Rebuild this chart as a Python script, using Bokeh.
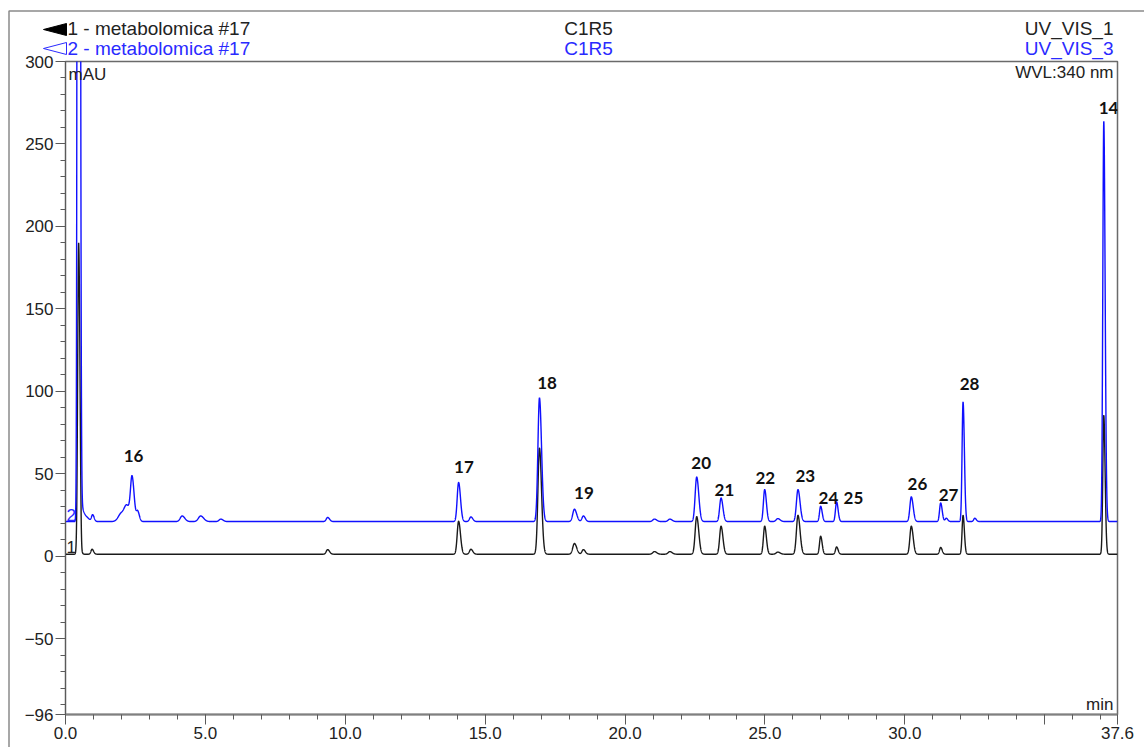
import numpy as np
from bokeh.plotting import figure
from bokeh.models import (Range1d, FixedTicker, Label, ColumnDataSource, NumeralTickFormatter)
from bokeh.core.properties import value
from bokeh.embed import file_html
from bokeh.resources import INLINE

# ---------------- data ----------------
x_start, x_end = 0.0, 37.6
y_bottom, y_top = -96, 300

x_major = [0, 5, 10, 15, 20, 25, 30, 35, 37.6]
y_major = [-96, -50, 0, 50, 100, 150, 200, 250, 300]

# channel 2 (blue, UV_VIS_3): retention time (min), apex (mAU), sigma (min)
ch3_base = 21.0
ch3_time = [0.465, 0.58, 0.72, 0.97, 2.00, 2.20, 2.38, 2.58, 4.17, 4.83, 5.55, 9.37,
            14.05, 14.49, 16.94, 18.19, 18.51, 21.05, 21.60, 22.56, 23.43, 24.99,
            25.46, 26.18, 26.99, 27.56, 30.23, 31.28, 31.48, 32.08, 32.50, 37.11]
ch3_apex = [2000, 28, 24, 25, 26, 29, 46, 27, 24.4, 24.4, 22.5, 23.5,
            44.7, 23.8, 96, 28.5, 24.4, 22.5, 22.5, 48, 35.3, 40.4,
            22.8, 40.4, 30.3, 32.9, 36, 32.3, 23, 93.5, 23, 263.8]
ch3_sigma = [0.03, 0.05, 0.08, 0.04, 0.11, 0.09, 0.055, 0.045, 0.07, 0.08, 0.06, 0.05,
             0.05, 0.05, 0.055, 0.06, 0.05, 0.06, 0.06, 0.055, 0.05, 0.045,
             0.06, 0.055, 0.04, 0.04, 0.05, 0.04, 0.04, 0.035, 0.04, 0.035]

# channel 1 (black, UV_VIS_1)
ch1_base = 1.2
ch1_time = [0.47, 0.56, 0.95, 9.37, 14.05, 14.49, 16.94, 18.19, 18.51, 21.05, 21.60,
            22.56, 23.43, 24.99, 25.46, 26.18, 26.99, 27.56, 30.23, 31.28, 32.08, 37.11]
ch1_apex = [190, -7, 4.2, 4.0, 21.2, 4.2, 65.6, 7.7, 4.0, 2.8, 2.8,
            24, 18.2, 18.2, 2.5, 24.8, 12.1, 5.6, 18.2, 5.3, 24.8, 85.5]
ch1_sigma = [0.035, 0.02, 0.04, 0.05, 0.05, 0.05, 0.055, 0.06, 0.05, 0.06, 0.06,
             0.055, 0.05, 0.045, 0.06, 0.055, 0.04, 0.04, 0.05, 0.04, 0.035, 0.035]

# peak annotations
peak_names = ["16", "17", "18", "19", "20", "21", "22", "23", "24", "25", "26", "27", "28", "14"]
peak_label_t = [2.43, 14.24, 17.21, 18.53, 22.72, 23.55, 25.01, 26.44, 27.27, 28.16,
                30.45, 31.56, 32.31, 37.28]
peak_label_y = [60.6, 53.9, 104.8, 38.2, 56.4, 40.0, 47.3, 48.5, 35.2, 35.2,
                43.6, 37.0, 104.2, 271.5]

# header texts
hdr_left = ["1 - metabolomica #17", "2 - metabolomica #17"]
hdr_mid = ["C1R5", "C1R5"]
hdr_right = ["UV_VIS_1", "UV_VIS_3"]

BLUE = "#1010ff"
BLUE_TXT = "#2a2aff"
BLACK = "#1a1a1a"
FONT = "Liberation Sans"

# ---------------- traces built from the peak table ----------------
t = np.linspace(x_start, x_end, 12000)


def trace(base, times, apex, sig, tail=1.35):
    y = np.full_like(t, base)
    for t0, a, s in zip(times, apex, sig):
        d = t - t0
        ss = np.where(d < 0, s, s * tail)
        y += (a - base) * np.exp(-0.5 * (d / ss) ** 2)
    return y


y_ch1 = trace(ch1_base, ch1_time, ch1_apex, ch1_sigma)
y_ch3 = trace(ch3_base, ch3_time, ch3_apex, ch3_sigma)

W, H = 1144, 747
L, R, T, B = 65, 27, 61, 33

# ---------------- page-size backdrop: outer frame + header (page pixels) ----------------
hdr = figure(width=W, height=H, output_backend="svg", toolbar_location=None,
             x_range=Range1d(0, W), y_range=Range1d(H, 0),
             x_axis_type=None, y_axis_type=None,
             min_border_left=0, min_border_right=0, min_border_top=0, min_border_bottom=0)
hdr.outline_line_color = None
hdr.background_fill_color = "white"
hdr.border_fill_color = "white"
hdr.xgrid.visible = False
hdr.ygrid.visible = False
hdr.line([8.5, 8.5, W], [H, 10.5, 10.5], line_color="#8a8a8a", line_width=1.5)
rows_y = [28, 48]
colors = ["#222222", BLUE_TXT]
hdr.text(x=[67, 67], y=rows_y, text=hdr_left, text_color=colors, text_align="left",
         text_baseline="middle", text_font=value(FONT), text_font_size="19px")
hdr.text(x=[588, 588], y=rows_y, text=hdr_mid, text_color=colors, text_align="center",
         text_baseline="middle", text_font=value(FONT), text_font_size="19px")
hdr.text(x=[1113, 1113], y=rows_y, text=hdr_right, text_color=colors, text_align="right",
         text_baseline="middle", text_font=value(FONT), text_font_size="19px")
hdr.patch([43, 66, 66], [29, 23, 35], fill_color="#000000", line_color="#000000")
hdr.patch([43, 66, 66], [48, 42, 54], fill_alpha=0, line_color=BLUE_TXT, line_width=1)

# ---------------- main figure, overlaid on the backdrop ----------------
p = figure(width=W, height=H, output_backend="svg", toolbar_location=None,
           x_range=Range1d(x_start, x_end), y_range=Range1d(y_bottom, y_top),
           min_border_left=L, min_border_right=R, min_border_top=T, min_border_bottom=B,
           margin=(-H, 0, 0, 0))
p.xgrid.visible = False
p.ygrid.visible = False
p.background_fill_color = "white"
p.border_fill_color = None
p.outline_line_color = "#6a6a6a"
p.outline_line_width = 1.5

src1 = ColumnDataSource(dict(t=t, y=y_ch1))
src3 = ColumnDataSource(dict(t=t, y=y_ch3))
p.line("t", "y", source=src1, line_color=BLACK, line_width=1.4)
p.line("t", "y", source=src3, line_color=BLUE, line_width=1.4)

xa = p.xaxis[0]
xa.ticker = FixedTicker(ticks=x_major, minor_ticks=list(range(0, 38)))
xa.formatter = NumeralTickFormatter(format="0.0")
xa.major_label_overrides = {35: ""}
ya = p.yaxis[0]
ya.ticker = FixedTicker(ticks=y_major, minor_ticks=list(range(-90, 300, 10)))
for ax in (xa, ya):
    ax.major_tick_out = 10
    ax.major_tick_in = 0
    ax.minor_tick_out = 5
    ax.minor_tick_in = 0
    ax.axis_line_color = "#5a5a5a"
    ax.major_tick_line_color = "#5a5a5a"
    ax.minor_tick_line_color = "#5a5a5a"
    ax.major_label_text_font = FONT
    ax.major_label_text_font_size = "17px"
    ax.major_label_text_color = "#222222"
    ax.major_label_standoff = 2
xa.axis_line_width = 2
xa.axis_line_color = "#808080"

p.text(x=peak_label_t, y=peak_label_y, text=peak_names, text_align="center",
       text_baseline="middle", text_font=value("Lato"), text_font_style="bold",
       text_font_size="17px", text_color="#111111")

# pixel -> data helpers for in-frame decorations
sx = (W - L - R) / (x_end - x_start)
sy = (H - T - B) / (y_top - y_bottom)
tx = lambda px: x_start + (px - L) / sx
ty = lambda py: y_top - (py - T) / sy


def lab(x, y, text, color="#222222", align="left", size="17px"):
    p.add_layout(Label(x=x, y=y, text=text, text_color=color, text_align=align,
                       text_baseline="middle", text_font=FONT, text_font_size=size))


lab(tx(68), ty(74), "mAU")
lab(tx(1113), ty(72), "WVL:340 nm", align="right")
lab(tx(1113), ty(704), "min", align="right")
lab(tx(66), ty(546), "1")
lab(tx(66), ty(514), "2", BLUE_TXT)

open("out.html", "w").write(file_html([hdr, p], INLINE))
